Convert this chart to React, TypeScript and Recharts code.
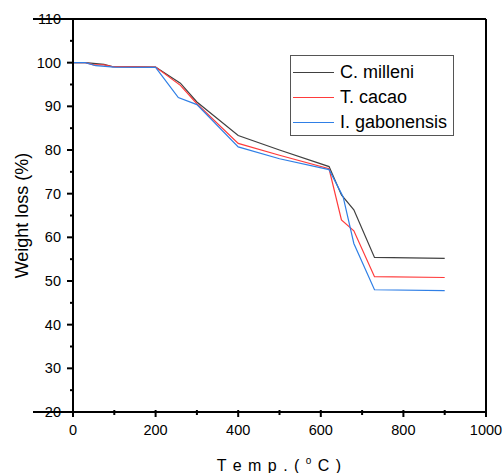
import React from 'react';
import { LineChart, Line, XAxis, YAxis, ReferenceLine } from 'recharts';

const seriesNames = ['C. milleni', 'T. cacao', 'I. gabonensis'];
const seriesColors = ['#404040', '#ff3b3b', '#2f7fe6'];

const milleniTemp = [0, 30, 75, 95, 200, 260, 300, 400, 500, 620, 650, 680, 730, 900];
const milleniWeight = [100, 100, 99.6, 99.1, 99, 95.3, 91, 83.3, 80, 76.2, 69.7, 66.3, 55.4, 55.2];

const cacaoTemp = [0, 30, 50, 75, 95, 200, 260, 300, 400, 500, 620, 650, 680, 730, 900];
const cacaoWeight = [100, 100, 99.5, 99.5, 99.1, 99, 94.8, 90.6, 81.5, 78.8, 75.7, 64, 61.5, 51, 50.8];

const gabonTemp = [0, 30, 55, 100, 200, 255, 300, 400, 500, 620, 654, 680, 730, 900];
const gabonWeight = [100, 100, 99.3, 99, 98.9, 92, 90.4, 80.7, 78, 75.5, 69.3, 58.6, 48, 47.8];

const xTicks = [0, 100, 200, 300, 400, 500, 600, 700, 800, 900, 1000];
const yTicks = [20, 25, 30, 35, 40, 45, 50, 55, 60, 65, 70, 75, 80, 85, 90, 95, 100, 105, 110];

const toRows = (t: number[], w: number[]) => t.map((temp, i) => ({ temp, weight: w[i] }));
const seriesData = [
  toRows(milleniTemp, milleniWeight),
  toRows(cacaoTemp, cacaoWeight),
  toRows(gabonTemp, gabonWeight),
];

const FONT = 'Arial, "Liberation Sans", sans-serif';

const YTick = (props: any) => {
  const { x, y, payload } = props;
  const v = payload.value;
  const major = v % 10 === 0;
  return (
    <g>
      {(v === 110 || v === 20) && (
        <line x1={x - 40} x2={x} y1={y} y2={y} stroke="#000" strokeWidth={2} />
      )}
      <line x1={x} x2={x - (major ? 6 : 3)} y1={y} y2={y} stroke="#000" strokeWidth={2} />
      {major && (
        <text x={x - 12} y={y} dy={5} textAnchor="end" fontSize={14.5} fontFamily={FONT} fill="#000">
          {v}
        </text>
      )}
    </g>
  );
};

const XTick = (props: any) => {
  const { x, y, payload } = props;
  const v = payload.value;
  const major = v % 200 === 0;
  return (
    <g>
      <line x1={x} x2={x} y1={y - 2} y2={y + (major ? 5 : 3)} stroke="#000" strokeWidth={2} />
      {major && (
        <text x={x} y={y + 23} textAnchor="middle" fontSize={14.5} fontFamily={FONT} fill="#000">
          {v}
        </text>
      )}
    </g>
  );
};

const YLabel = (props: any) => {
  const vb = props.viewBox;
  const cx = vb.x + 22;
  const cy = vb.y + vb.height / 2;
  return (
    <text x={cx} y={cy} transform={`rotate(-90, ${cx}, ${cy})`} textAnchor="middle" dominantBaseline="central" fontSize={18} fontFamily={FONT} fill="#000">
      Weight loss (%)
    </text>
  );
};

const XLabel = (props: any) => {
  const vb = props.viewBox;
  const cx = vb.x + vb.width / 2;
  return (
    <text x={cx} y={vb.y + 59} textAnchor="middle" fontSize={16} fontFamily={FONT} fill="#000" letterSpacing={1}>
      T e m p . ( <tspan fontSize={10} dy={-7}>o</tspan><tspan dy={7}> C )</tspan>
    </text>
  );
};

export default function App() {
  return (
    <div style={{ position: 'absolute', left: 0, top: 0, width: 503, height: 473, background: '#fff' }}>
      <LineChart width={503} height={473} margin={{ top: 19, right: 17, left: 0, bottom: 0 }}>
        <XAxis
          type="number"
          dataKey="temp"
          domain={[0, 1000]}
          ticks={xTicks}
          interval={0}
          height={61}
          tickSize={0}
          tickMargin={0}
          tickLine={false}
          tick={<XTick />}
          axisLine={{ stroke: '#000', strokeWidth: 2 }}
          allowDataOverflow
          label={<XLabel />}
        />
        <YAxis
          type="number"
          domain={[20, 110]}
          ticks={yTicks}
          interval={0}
          width={73}
          tickSize={0}
          tickMargin={0}
          tickLine={false}
          tick={<YTick />}
          axisLine={{ stroke: '#000', strokeWidth: 2 }}
          allowDataOverflow
          label={<YLabel />}
        />
        <ReferenceLine y={110} stroke="#000" strokeWidth={2} />
        <ReferenceLine x={1000} stroke="#000" strokeWidth={2} />
        {seriesData.map((d, i) => (
          <Line
            key={seriesNames[i]}
            data={d}
            dataKey="weight"
            name={seriesNames[i]}
            type="linear"
            stroke={seriesColors[i]}
            strokeWidth={1.2}
            dot={false}
            activeDot={false}
            isAnimationActive={false}
          />
        ))}
      </LineChart>
      <div
        style={{
          position: 'absolute',
          left: 290,
          top: 55,
          width: 162,
          height: 79,
          border: '1px solid #555',
          background: '#fff',
          fontFamily: FONT,
          fontSize: 18,
          color: '#000',
        }}
      >
        {seriesNames.map((n, i) => (
          <div key={n} style={{ position: 'absolute', left: 0, top: 4 + i * 25, height: 25, display: 'flex', alignItems: 'center', whiteSpace: 'nowrap' }}>
            <div style={{ width: 41, height: 1.3, background: seriesColors[i], marginLeft: 2, marginRight: 6 }} />
            <span>{n}</span>
          </div>
        ))}
      </div>
    </div>
  );
}
